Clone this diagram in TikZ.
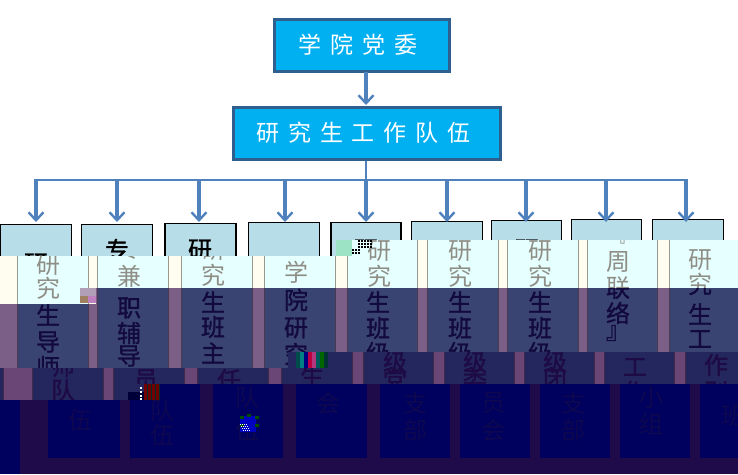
\documentclass[tikz,border=0pt]{standalone}
\usepackage{fontspec}
\newfontfamily\cjk{Noto Sans CJK SC}
\newfontfamily\cjkheavy[FakeBold=1.2]{Noto Sans CJK SC}
\newfontfamily\cjkwide[LetterSpace=38]{Noto Sans CJK SC}
\usetikzlibrary{arrows.meta}
\definecolor{headfill}{HTML}{00B0F0}
\definecolor{headline}{HTML}{2F5F8F}
\definecolor{arrowblue}{HTML}{4F81BD}
\definecolor{childfill}{HTML}{B7DDE8}
\definecolor{paleface}{HTML}{E6FFFF}
\definecolor{palegap}{HTML}{FFFDEF}
\definecolor{paletext}{HTML}{8E8E86}
\definecolor{midface}{HTML}{3A4472}
\definecolor{midgap}{HTML}{7B5F87}
\definecolor{midtext}{HTML}{120A3C}
\definecolor{lowface}{HTML}{24265E}
\definecolor{lowgap}{HTML}{6A4676}
\definecolor{lowtext}{HTML}{1E0A44}
\definecolor{deepface}{HTML}{00005F}
\definecolor{deepgap}{HTML}{1F0A4A}
\definecolor{deeptext}{HTML}{0E0850}
\tikzset{
  headbox/.style={draw=headline,line width=3pt,fill=headfill,text=white,
    minimum height=52pt,inner sep=0pt,font=\fontsize{23}{23}\selectfont\cjkwide},
  childbox/.style={draw=black,line width=1.2pt,fill=childfill,anchor=north,
    minimum width=71pt,minimum height=60pt,inner sep=0pt},
  colchar/.style={inner sep=0pt,font=\fontsize{24}{24}\selectfont\cjk},
  heavychar/.style={inner sep=0pt,font=\fontsize{24}{24}\selectfont\cjkheavy},
  branch/.style={draw=arrowblue,line width=3.4pt,
    -{Straight Barb[length=8pt,width=15pt,line width=2.4pt]}},
  trunk/.style={draw=arrowblue,line width=1.8pt},
}
% one glitched band of the nine columns
\newcommand{\bandfaces}[3]{%
  \fill[#2] (0,240) rectangle (738,474);
  \foreach \l/\r in {#1}
    \filldraw[fill=#3,draw=#2!60!black,line width=1pt] (\l,230) rectangle (\r,480);
}
\begin{document}
\begin{tikzpicture}[x=1pt,y=-1pt]
    \useasboundingbox (0,0) rectangle (738,474);

    % Top of the chart
    \node[headbox,minimum width=175pt] (party) at (361.5,45) {学院党委\hspace*{7pt}};
    \node[headbox,minimum width=267pt] (team) at (366.5,133) {研究生工作队伍\hspace*{6pt}};
    \draw[branch] (366,72) -- (366,105);
    \coordinate (bus) at (366,180);
    \coordinate (busleft) at (36,180);
    \coordinate (busright) at (686,180);
    \draw[trunk] (team.south -| bus) -- (bus);
    \draw[trunk] (busleft) -- (busright);

    % The nine boxes and the arrows going into them
    \foreach \x/\y/\w [count=\n] in {36/224/71,117/224/71,200.5/223/71,284/222/71,366/222/70,
        447/221/71,526.5/220/70,606.5/219/70,688/219/71}
      \node[childbox,minimum width=\w pt] (box\n) at (\x,\y) {};
    \foreach \n/\x in {1/36,2/117,3/199,4/285,5/366,6/447,7/526,8/606,9/686}
      \draw[branch] (\x,179) -- (\x,222);

    % What shows of the texts above the bands
    \foreach \x/\y/\c [count=\n] in {36/264/研,117/250/专,200/250/研,366/250/研,447/252/研,
        527/250/研,606/252/『}
      \node[heavychar] (top\n) at (\x,\y) {\c};

    % Pale band
    \begin{scope}
      \clip (0,256) -- (336,256) -- (336,240) -- (738,240) -- (738,288) -- (96,288) -- (96,304) -- (0,304) -- cycle;
      \bandfaces{17/88,97/168,181/252,264/335,347/417,427/498,507/578,587/657,669/760}{palegap}{paleface}
      \foreach \x/\y/\c [count=\n] in {48/265/研,48/288/究,129/248/专,129/276/兼,213/250/研,213/275/究,
          296/272/学,379/251/研,379/276/究,460/251/研,460/276/究,540/251/研,540/276/究,
          618/262/周,618/288/联,700/260/研,700/284/究,618/238/『}
        \node[colchar,text=paletext] (pale\n) at (\x,\y) {\c};
    \end{scope}

    % Middle band
    \begin{scope}
      \clip (0,304) -- (96,304) -- (96,288) -- (738,288) -- (738,352) -- (288,352) -- (288,368) -- (0,368) -- cycle;
      \bandfaces{17/88,97/168,181/252,264/335,347/417,427/498,507/578,587/657,669/760}{midgap}{midface}
      \foreach \x/\y/\c [count=\n] in {48/315/生,48/342/导,48/367/师,129/276/兼,129/308/职,129/333/辅,129/356/导,
          213/276/究,213/302/生,213/327/班,213/353/主,296/300/院,296/328/研,296/354/究,
          378/302/生,378/328/班,378/353/级,460/302/生,460/328/班,460/353/级,540/302/生,540/328/班,540/353/级,
          618/288/联,618/313/络,618/333/』,700/314/生,700/339/工,700/284/究}
        \node[heavychar,text=midtext] (mid\n) at (\x,\y) {\c};
    \end{scope}

    % Dark band
    \begin{scope}
      \clip (0,368) -- (288,368) -- (288,352) -- (738,352) -- (738,384) -- (128,384) -- (128,400) -- (0,400) -- cycle;
      \bandfaces{-30/3,32/103,113/184,197/268,281/352,363/433,444/514,524/594,604/674,685/760}{lowgap}{lowface}
      \foreach \x/\y/\c [count=\n] in {63/366/师,63/390/队,146/380/员,229/380/任,312/376/生,
          395/362/级,395/379/党,475/362/级,475/380/委,555/362/级,555/380/团,635/367/工,635/392/作,
          716/365/作,716/392/别}
        \node[heavychar,text=lowtext] (low\n) at (\x,\y) {\c};
    \end{scope}

    % Deep band
    \begin{scope}
      \clip (0,400) -- (128,400) -- (128,384) -- (738,384) -- (738,474) -- (0,474) -- cycle;
      \fill[deepgap] (0,384) rectangle (738,474);
      \fill[deepface] (0,384) rectangle (20,474);
      \foreach \l/\r in {48/120,130/200,213/283,296/367,380/450,460/530,540/610,620/690,700/760}
        \fill[deepface] (\l,384) rectangle (\r,458);
      \foreach \x/\y/\c [count=\n] in {80/420/伍,162/410/队,162/435/伍,247/397/队,247/430/伍,
          328/403/会,415/403/支,415/430/部,493/403/员,493/430/会,573/403/支,573/430/部,
          651/398/小,651/424/组,733/415/班}
        \node[colchar,text=deeptext] (deep\n) at (\x,\y) {\c};
    \end{scope}

    % Broken blocks
    \fill[midgap!60!white] (80,288) rectangle (96,296);
    \fill[brown!50!gray] (80,296) rectangle (88,303);
    \fill[violet!50!white] (88,296) rectangle (96,303);
    % red and green block with white specks
    \fill[deepface!60!black] (128,392) rectangle (144,400);
    \fill[lowface] (128,384) rectangle (144,392);
    \foreach \x in {144,148,152,156}
      \fill[red!45!black] (\x,384) rectangle ++(2.5,16);
    \foreach \x in {146.5,150.5,154.5,158.5}
      \fill[teal!35!black] (\x,384) rectangle ++(1.5,16);
    \foreach \y in {387,391,395,398}
      \fill[white] (140,\y) rectangle ++(1.5,1.5);
    % blue block with a checker
    \fill[blue!75!black] (240,416) rectangle (256,432);
    \foreach \x/\y in {240/416,255/416,240/424,255/424,247/414}
      \fill[black!70!green] (\x,\y) rectangle ++(4,3);
    \foreach \x in {0,2,4,6} \foreach \y in {0,2,4,6}
      \fill[white] (240+\x+\y/2,424+\y) rectangle ++(1.2,1.2);
    % striped block in the middle
    \foreach \x/\s in {296/teal!60!black,300/teal,304/blue!50!black,308/purple,312/magenta!70!black,
        316/teal!70!black,320/green!40!black,324/black!60!teal}
      \fill[\s] (\x,352) rectangle ++(4,16);
    % block on the fifth column
    \fill[green!15!childfill] (336,240) rectangle (352,256);
    \foreach \x in {0,3,6,9,12} \foreach \y in {0,3,6}
      \fill[black] (358+\x,240+\y) rectangle ++(1.8,1.8);
    \foreach \x in {0,3,6} \foreach \y in {0,3}
      \fill[black] (352+\x,249+\y) rectangle ++(1.5,1.5);
\end{tikzpicture}
\end{document}
